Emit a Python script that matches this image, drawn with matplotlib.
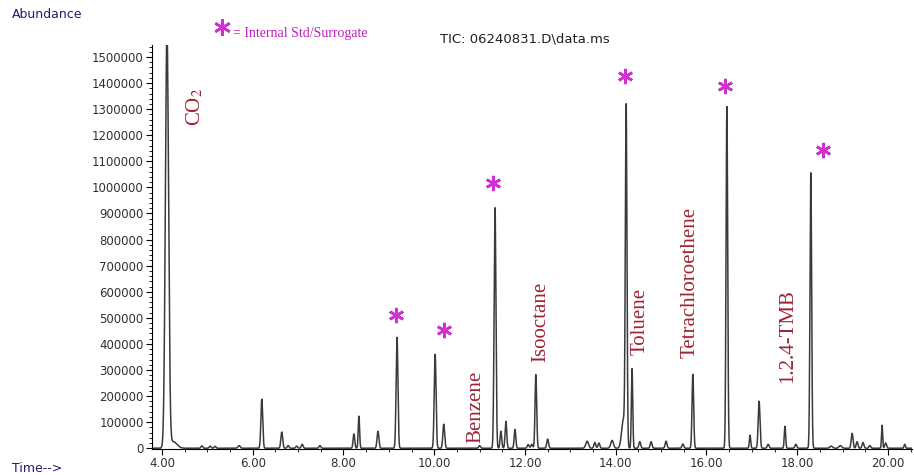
import numpy as np
import matplotlib
matplotlib.use('Agg')
import matplotlib.pyplot as plt
from matplotlib.lines import Line2D

#### peak table (time in min, abundance, peak sigma in min)
peak_time = [4.11, 4.25, 4.88, 5.06, 5.17, 5.70, 6.20, 6.64, 6.78, 6.97, 7.09, 7.48,
             8.23, 8.34, 8.76, 9.18, 10.02, 10.21, 11.00, 11.34, 11.47, 11.58, 11.78,
             12.07, 12.15, 12.24, 12.50, 13.37, 13.54, 13.63, 13.92, 14.17, 14.23, 14.36,
             14.53, 14.78, 15.11, 15.48, 15.70, 16.45, 16.96, 17.16, 17.36, 17.73, 17.97,
             18.30, 18.75, 18.95, 19.21, 19.32, 19.45, 19.60, 19.87, 19.95, 20.37]
peak_height = [1600000, 25000, 9000, 8000, 7000, 10000, 188000, 62000, 10000, 8000, 15000, 10000,
               55000, 123000, 65000, 425000, 360000, 92000, 10000, 922000, 65000, 103000, 72000,
               14000, 15000, 282000, 35000, 27000, 22000, 20000, 30000, 110000, 1285000, 305000,
               25000, 25000, 27000, 16000, 283000, 1310000, 50000, 180000, 15000, 84000, 15000,
               1056000, 8000, 10000, 57000, 25000, 22000, 10000, 88000, 20000, 15000]
peak_sigma = [0.035, 0.08, 0.02, 0.02, 0.02, 0.025, 0.02, 0.02, 0.02, 0.02, 0.02, 0.02,
              0.018, 0.015, 0.02, 0.02, 0.02, 0.02, 0.02, 0.02, 0.018, 0.018, 0.018,
              0.02, 0.02, 0.018, 0.02, 0.03, 0.02, 0.02, 0.03, 0.04, 0.018, 0.015,
              0.02, 0.02, 0.02, 0.02, 0.018, 0.018, 0.015, 0.02, 0.02, 0.015, 0.02,
              0.018, 0.03, 0.03, 0.02, 0.02, 0.02, 0.02, 0.012, 0.02, 0.015]

#### compound labels
compounds = ['CO$_2$', 'Benzene', 'Isooctane', 'Toluene', 'Tetrachloroethene', '1.2.4-TMB']
compound_pos = [(4.73, 1309000), (10.92, 157000), (12.35, 486000), (14.53, 486000),
                (15.64, 635000), (17.80, 429000)]

#### internal standard / surrogate markers
std_pos = [(9.16, 509000), (10.21, 452000), (11.29, 1018000), (14.20, 1427000),
           (16.41, 1389000), (18.57, 1144000)]

y_ticks = list(range(0, 1500001, 100000))
x_ticks = [4, 6, 8, 10, 12, 14, 16, 18, 20]

#### build the trace from the peak table
t = np.arange(3.78, 20.53, 0.002)
signal = np.zeros_like(t)
for tc, h, s in zip(peak_time, peak_height, peak_sigma):
    signal += h*np.exp(-0.5*((t-tc)/s)**2)

#### plot
plt.rcParams['mathtext.fontset'] = 'stix'
fig = plt.figure(figsize=(9.14, 4.75), dpi=100)
ax = fig.add_axes([152/914, 1-449/475, 760/914, 404/475])
ax.plot(t, signal, color='#3a3a3a', lw=1.1)

ax.set_xlim(3.78, 20.53)
ax.set_ylim(-3000, 1546000)
ax.set_xticks(x_ticks)
ax.set_xticklabels(['%.2f' % v for v in x_ticks])
ax.set_yticks(y_ticks)
ax.set_yticklabels([str(v) for v in y_ticks])
ax.set_xticks(np.arange(4, 20.6, 0.5), minor=True)
ax.set_yticks(np.arange(0, 1540001, 20000), minor=True)
ax.tick_params(axis='both', which='major', length=4, width=0.8, labelsize=8.5,
               labelcolor='#303030', pad=2)
ax.tick_params(axis='both', which='minor', length=2, width=0.6)
for sp in ['top', 'right']:
    ax.spines[sp].set_visible(False)
for sp in ['left', 'bottom']:
    ax.spines[sp].set_linewidth(0.8)

for lab, (x, y) in zip(compounds, compound_pos):
    ax.text(x, y, lab, rotation=90, ha='center', va='center', color='#9e2436',
            fontsize=15, family='Liberation Serif')

xs = [p[0] for p in std_pos]
ys = [p[1] for p in std_pos]
ax.plot(xs, ys, ls='none', marker=(6, 2, 0), ms=11, mew=1.9, color='#d030d0', clip_on=False)

#### header texts
fig.add_artist(Line2D([222/914], [1-27/475], marker=(6, 2, 0), ms=12, mew=1.9,
                      color='#d030d0', transform=fig.transFigure))
fig.text(233/914, 1-33/475, '= Internal Std/Surrogate', color='#c020c0', fontsize=10,
         family='Liberation Serif', va='center', ha='left')
fig.text(12/914, 1-14/475, 'Abundance', color='#1c1c70', fontsize=9, va='center', ha='left')
fig.text(12/914, 1-468/475, 'Time-->', color='#1c1c70', fontsize=9, va='center', ha='left')
fig.text(440/914, 1-39/475, 'TIC: 06240831.D\\data.ms', color='#202020', fontsize=9.5,
         va='center', ha='left')

plt.savefig('out.png', dpi=100)
